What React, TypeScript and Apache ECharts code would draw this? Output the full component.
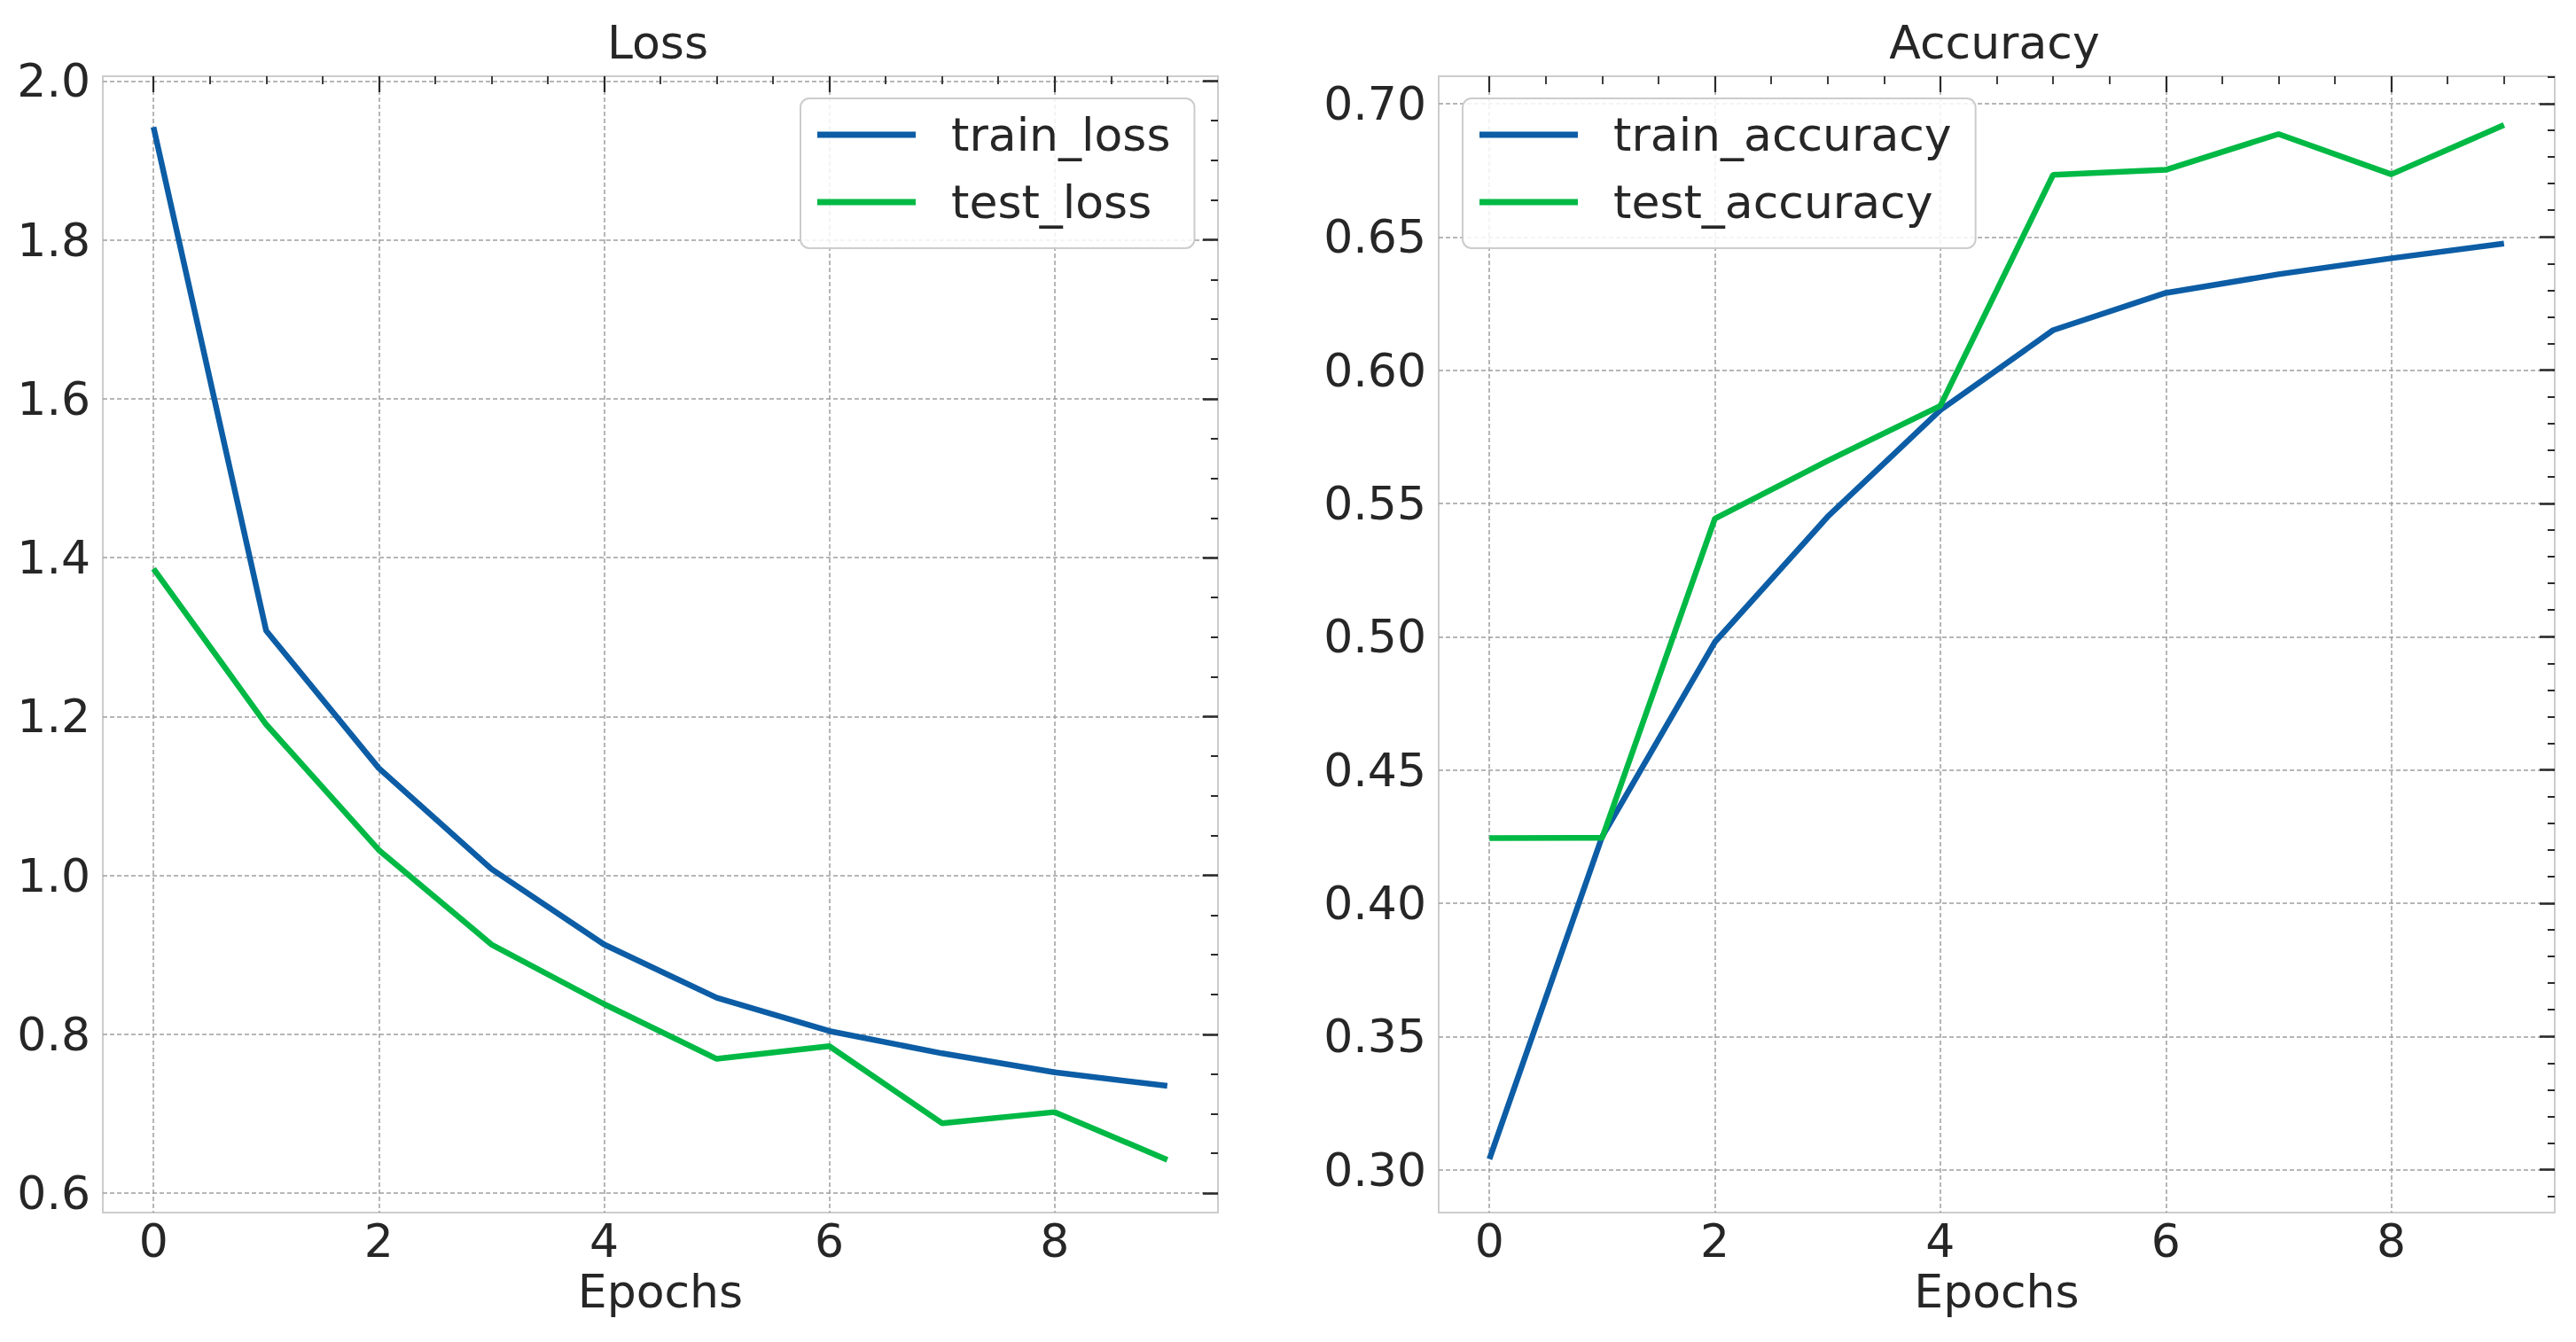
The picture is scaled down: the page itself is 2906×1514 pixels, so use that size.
import React, { useEffect, useRef } from "react";
import * as echarts from "echarts";

const epochs = [0, 1, 2, 3, 4, 5, 6, 7, 8, 9];
const trainLoss = [1.942, 1.308, 1.135, 1.008, 0.913, 0.846, 0.804, 0.776, 0.752, 0.735];
const testLoss = [1.386, 1.19, 1.032, 0.913, 0.838, 0.769, 0.785, 0.688, 0.702, 0.642];
const trainAccuracy = [0.304, 0.425, 0.498, 0.545, 0.585, 0.615, 0.629, 0.636, 0.642, 0.6475];
const testAccuracy = [0.4244, 0.4245, 0.5443, 0.566, 0.5866, 0.6733, 0.6752, 0.6886, 0.6735, 0.692];

const lossSeriesNames = ["train_loss", "test_loss"];
const accSeriesNames = ["train_accuracy", "test_accuracy"];
const panelTitles = ["Loss", "Accuracy"];
const xAxisName = "Epochs";

const epochTicks = [0, 2, 4, 6, 8];
const lossTicks = [0.6, 0.8, 1.0, 1.2, 1.4, 1.6, 1.8, 2.0];
const accTicks = [0.3, 0.35, 0.4, 0.45, 0.5, 0.55, 0.6, 0.65, 0.7];

const epochExtent = [-0.45, 9.45];
const lossExtent = [0.5755, 2.006];
const accExtent = [0.2839, 0.7103];

const BLUE = "#0C5DA5";
const GREEN = "#00B945";
const TEXT = "#262626";
const TICK = "#2b2b2b";
const FONT = "DejaVu Sans";
const FS = 52;

const pairs = (ys: number[]) => epochs.map((x, i) => [x, ys[i]]);

function buildOption() {
  const grids = [
    { left: 116, top: 86, width: 1258, height: 1282 },
    { left: 1623, top: 86, width: 1259, height: 1282 },
  ].map((g) => ({
    ...g,
    show: true,
    borderColor: "#cccccc",
    borderWidth: 2,
    backgroundColor: "#ffffff",
    containLabel: false,
  }));

  const splitLine = {
    show: true,
    showMinLine: false,
    showMaxLine: false,
    lineStyle: { color: "#9e9e9e", width: 1.5, type: [5, 3] },
  };

  const labelStyle = { fontSize: FS, color: TEXT, fontFamily: FONT };
  const hiddenLine = { show: false, onZero: false };

  const bottomX = (gridIndex: number) => ({
    type: "value",
    gridIndex,
    position: "bottom",
    min: epochExtent[0],
    max: epochExtent[1],
    splitNumber: 5,
    minInterval: 2,
    maxInterval: 2,
    axisLine: hiddenLine,
    axisTick: { show: false },
    axisLabel: {
      ...labelStyle,
      margin: 6,
      customValues: epochTicks,
      formatter: (v: number) => String(Math.round(v)),
    },
    splitLine,
    name: xAxisName,
    nameLocation: "middle",
    nameGap: 53,
    nameTextStyle: labelStyle,
  });

  const topX = (gridIndex: number) => ({
    type: "value",
    gridIndex,
    position: "top",
    min: epochExtent[0],
    max: epochExtent[1],
    splitNumber: 5,
    minInterval: 2,
    maxInterval: 2,
    axisLine: hiddenLine,
    axisTick: {
      show: true,
      inside: true,
      length: 18,
      customValues: epochTicks,
      lineStyle: { color: TICK, width: 2.2 },
    },
    minorTick: { show: true, splitNumber: 4, length: 9, lineStyle: { color: TICK, width: 1.8 } },
    axisLabel: { show: false },
    splitLine: { show: false },
  });

  const leftY = (gridIndex: number, ext: number[], step: number, split: number, digits: number, ticks: number[]) => ({
    type: "value",
    gridIndex,
    position: "left",
    min: ext[0],
    max: ext[1],
    splitNumber: split,
    minInterval: step,
    maxInterval: step,
    axisLine: hiddenLine,
    axisTick: { show: false },
    axisLabel: {
      ...labelStyle,
      margin: 14,
      customValues: ticks,
      formatter: (v: number) => v.toFixed(digits),
    },
    splitLine,
  });

  const rightY = (gridIndex: number, ext: number[], step: number, split: number, minorSplit: number, ticks: number[]) => ({
    type: "value",
    gridIndex,
    position: "right",
    min: ext[0],
    max: ext[1],
    splitNumber: split,
    minInterval: step,
    maxInterval: step,
    axisLine: hiddenLine,
    axisTick: {
      show: true,
      inside: true,
      length: 17,
      customValues: ticks,
      lineStyle: { color: TICK, width: 2.6 },
    },
    minorTick: { show: true, splitNumber: minorSplit, length: 8, lineStyle: { color: TICK, width: 2 } },
    axisLabel: { show: false },
    splitLine: { show: false },
  });

  const lineSeries = (name: string, ys: number[], color: string, xAxisIndex: number, yAxisIndex: number) => ({
    type: "line",
    name,
    data: pairs(ys),
    xAxisIndex,
    yAxisIndex,
    symbol: "none",
    color,
    itemStyle: { color },
    lineStyle: { color, width: 6.5 },
    emphasis: { disabled: true },
    z: 3,
  });

  const legendBase = {
    orient: "vertical",
    top: 111,
    itemWidth: 111,
    itemHeight: 7,
    icon: "rect",
    itemGap: 20,
    borderColor: "#cccccc",
    borderWidth: 2,
    borderRadius: 10,
    backgroundColor: "rgba(255,255,255,0.85)",
    selectedMode: false,
    textStyle: {
      fontSize: FS,
      color: TEXT,
      fontFamily: FONT,
      lineHeight: 56,
      padding: [0, 0, 0, 35],
    },
    z: 10,
  };

  return {
    animation: false,
    backgroundColor: "#ffffff",
    textStyle: { fontFamily: FONT },
    grid: grids,
    xAxis: [bottomX(0), topX(0), bottomX(1), topX(1)],
    yAxis: [
      leftY(0, lossExtent, 0.2, 7, 1, lossTicks),
      rightY(0, lossExtent, 0.2, 7, 4, lossTicks),
      leftY(1, accExtent, 0.05, 8, 2, accTicks),
      rightY(1, accExtent, 0.05, 8, 5, accTicks),
    ],
    legend: [
      { ...legendBase, left: 903, padding: [13, 27, 24, 19], data: lossSeriesNames },
      { ...legendBase, left: 1650, padding: [13, 27, 24, 19], data: accSeriesNames },
    ],
    graphic: [
      {
        type: "text",
        x: 742,
        y: 48,
        style: { text: panelTitles[0], fontSize: FS, fontFamily: FONT, fill: TEXT, align: "center", verticalAlign: "middle" },
      },
      {
        type: "text",
        x: 2250,
        y: 48,
        style: { text: panelTitles[1], fontSize: FS, fontFamily: FONT, fill: TEXT, align: "center", verticalAlign: "middle" },
      },
    ],
    series: [
      lineSeries(lossSeriesNames[0], trainLoss, BLUE, 0, 0),
      lineSeries(lossSeriesNames[1], testLoss, GREEN, 0, 0),
      lineSeries(accSeriesNames[0], trainAccuracy, BLUE, 2, 2),
      lineSeries(accSeriesNames[1], testAccuracy, GREEN, 2, 2),
    ],
  };
}

export default function App() {
  const ref = useRef<HTMLDivElement>(null);
  useEffect(() => {
    document.body.style.margin = "0";
    document.body.style.overflow = "hidden";
    if (!ref.current) return;
    const chart = echarts.init(ref.current, undefined, { renderer: "svg" });
    chart.setOption(buildOption() as any);
    return () => chart.dispose();
  }, []);
  return <div ref={ref} style={{ width: 2906, height: 1514 }} />;
}
